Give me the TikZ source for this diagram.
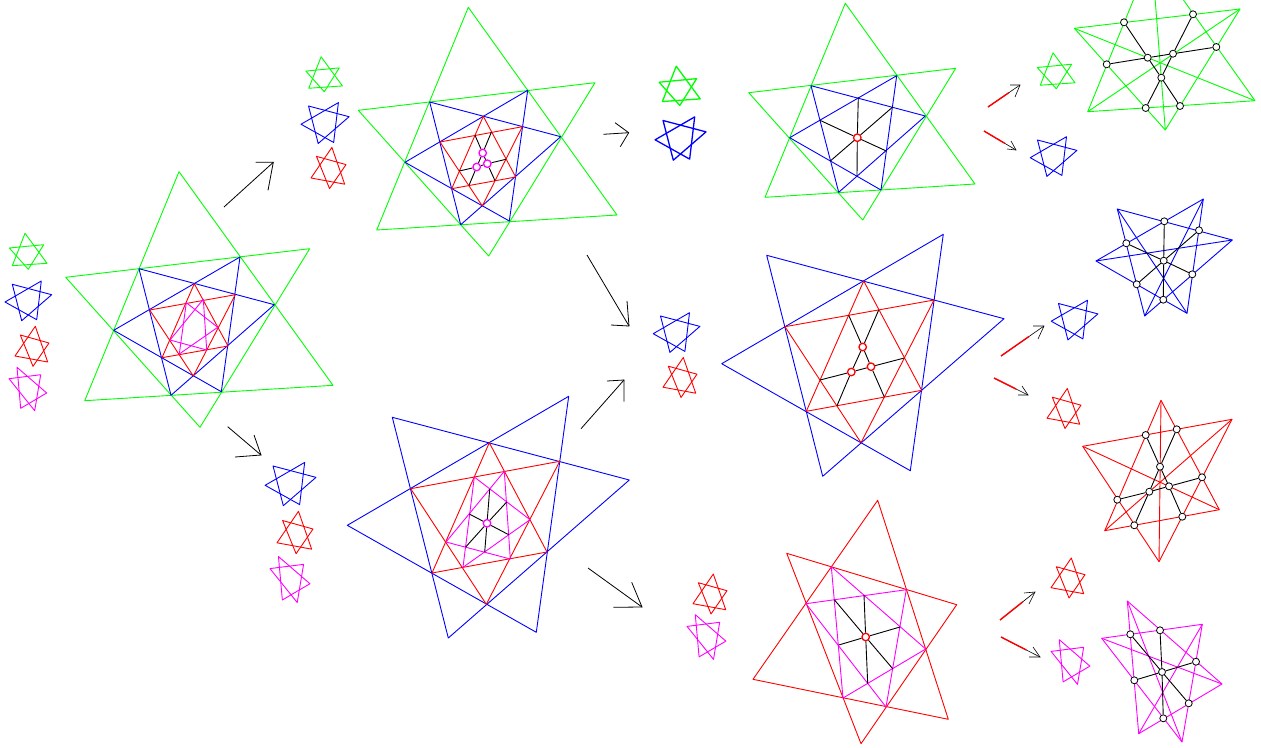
\documentclass[tikz,border=0pt]{standalone}
\usepackage{tikz}
\usetikzlibrary{calc}
\definecolor{pgreen}{RGB}{0,255,0}
\definecolor{pblue}{RGB}{0,0,255}
\definecolor{pred}{RGB}{255,0,0}
\definecolor{pmag}{RGB}{255,0,255}
\tikzset{
  starline/.style={line width=0.9pt,line join=round},
  conn/.style={black,line width=0.9pt},
  hub/.style={circle,draw=#1,fill=white,line width=1.3pt,minimum size=7.5pt,inner sep=0pt},
  vtx/.style={circle,draw=black,fill=white,line width=0.8pt,minimum size=7pt,inner sep=0pt},
  bigarrow/.style={black,line width=0.8pt,line join=miter},
  redshaft/.style={pred,line width=1.4pt},
  thinarrow/.style={black,line width=0.6pt}
}
% triangle: colour, three points
\newcommand{\tri}[4]{\draw[starline,#1] #2 -- #3 -- #4 -- cycle;}
% star of two triangles plus three long diagonals
\newcommand{\hexa}[7]{%
  \draw[starline,#1] #2 -- #4 -- #6 -- cycle;
  \draw[starline,#1] #3 -- #5 -- #7 -- cycle;
  \draw[starline,#1] #2 -- #5;
  \draw[starline,#1] #3 -- #6;
  \draw[starline,#1] #4 -- #7;}
% small stars: cx, cy, scale, optional width
\newcommand{\gstar}[4][0.9pt]{\begin{scope}[shift={(#2,#3)},scale=#4,pgreen,line width=#1,line join=round]
  \draw (-3,-17.7) -- (19,12.3) -- (-15.7,14.7) -- cycle;
  \draw (-18.7,-3) -- (15.7,-6.3) -- (0.3,18.3) -- cycle;\end{scope}}
\newcommand{\bstar}[4][0.9pt]{\begin{scope}[shift={(#2,#3)},scale=#4,pblue,line width=#1,line join=round]
  \draw (-16,-16.5) -- (23.4,-6.1) -- (-6.6,19.9) -- cycle;
  \draw (13,-19.8) -- (8.4,18.9) -- (-23.3,1.2) -- cycle;\end{scope}}
\newcommand{\rstar}[4][0.9pt]{\begin{scope}[shift={(#2,#3)},scale=#4,pred,line width=#1,line join=round]
  \draw (3.3,-20) -- (15.7,15.7) -- (-17,9.7) -- cycle;
  \draw (-11.7,-11.3) -- (17,-3.3) -- (1,20) -- cycle;\end{scope}}
\newcommand{\mstar}[4][0.9pt]{\begin{scope}[shift={(#2,#3)},scale=#4,pmag,line width=#1,line join=round]
  \draw (-10.9,-21.7) -- (18.8,4) -- (-7.2,19.3) -- cycle;
  \draw (-18.9,-10.3) -- (12.8,-14.3) -- (6.8,21.7) -- cycle;\end{scope}}
% arrows: name, start, tip, barb, barb
\newcommand{\bigarr}[5]{%
  \coordinate (#1s) at #2; \coordinate (#1t) at #3; \coordinate (#1a) at #4; \coordinate (#1b) at #5;
  \draw[bigarrow] (#1s) -- (#1t);
  \draw[bigarrow] (#1a) -- (#1t) -- (#1b);}
\newcommand{\redarr}[5]{%
  \coordinate (#1s) at #2; \coordinate (#1t) at #3; \coordinate (#1a) at #4; \coordinate (#1b) at #5;
  \draw[thinarrow] (#1s) -- (#1t);
  \draw[thinarrow] (#1a) -- (#1t) -- (#1b);
  \draw[redshaft] (#1s) -- ($(#1s)!0.65!(#1t)$);}
\begin{document}
\begin{tikzpicture}[x=1pt,y=-1pt]
\clip (0,0) rectangle (1261,747);
\fill[white] (0,0) rectangle (1261,747);

% ---------- small stars
\gstar{28}{251}{1}
\bstar{28.3}{300.8}{1}
\rstar{32}{346.3}{1}
\mstar{27.9}{389}{1}
\gstar{324}{74}{0.97}
\bstar{325}{123}{1.03}
\rstar{328.5}{168}{1.03}
\bstar{290.5}{484}{1.09}
\rstar{295}{532.5}{1.06}
\mstar{290}{579.5}{1.06}
\gstar[1.3pt]{679.5}{85.5}{1.09}
\bstar[1.3pt]{680.5}{138.5}{1.09}
\bstar{676.5}{332.5}{1}
\rstar{680}{377.5}{1}
\rstar{710}{594}{1}
\mstar{706.5}{637}{1.03}
\gstar{1056}{70.5}{1}
\bstar{1053.5}{156.5}{1}
\bstar{1074.5}{320}{1}
\rstar{1064}{408.5}{1}
\rstar{1068}{578}{1}
\mstar{1070.5}{662}{1.03}

% ---------- figure 1
\tri{pgreen}{(179,171.7)}{(333,385.3)}{(84.7,400.7)}
\tri{pgreen}{(65.7,277.3)}{(309.7,248.7)}{(200,427.3)}
\tri{pblue}{(139,268.7)}{(274.3,304.7)}{(171,395.3)}
\tri{pblue}{(240,257)}{(221.3,391.7)}{(113.7,330.3)}
\tri{pred}{(194.3,283.7)}{(228,346)}{(162,357.7)}
\tri{pred}{(235.3,294.7)}{(193.3,376)}{(149.7,310)}
\tri{pmag}{(203.3,299.3)}{(206.7,350)}{(170,340)}
\tri{pmag}{(186.3,302.7)}{(179.3,354)}{(217.7,327.3)}

% ---------- figure 2 (upper middle)
\tri{pgreen}{(468.3,7.3)}{(617,215)}{(376.7,230)}
\tri{pgreen}{(358.3,110.3)}{(595,82.7)}{(488.7,256)}
\tri{pblue}{(429.7,102)}{(560.7,136.7)}{(460.7,224.7)}
\tri{pblue}{(527.7,90.3)}{(509.3,221)}{(405,162.3)}
\tri{pred}{(483.3,116.3)}{(515.7,177)}{(451.7,188.7)}
\tri{pred}{(522.3,126.7)}{(482.3,206)}{(440,142)}
\coordinate (b1) at (475,135.3);
\coordinate (b2) at (491.3,132.3);
\coordinate (b3) at (506,159.3);
\coordinate (b4) at (495,180.7);
\coordinate (b5) at (469,185.3);
\coordinate (b6) at (459.3,171);
\node[hub=pmag] (bA) at (482.7,153) {};
\node[hub=pmag] (bB) at (487.3,163.7) {};
\node[hub=pmag] (bC) at (476.7,167) {};
\draw[conn] (b1) -- (bA) -- (bB) -- (b4);
\draw[conn] (b2) -- (bA) -- (bC) -- (b5);
\draw[conn] (b3) -- (bB) -- (bC) -- (b6);

% ---------- figure 3 (lower middle)
\tri{pblue}{(392.3,417.3)}{(629.3,480)}{(448.3,638)}
\tri{pblue}{(568.7,396.3)}{(536.3,632.3)}{(347.3,525.3)}
\tri{pred}{(489.3,442.7)}{(547,552)}{(432,573)}
\tri{pred}{(559.7,461.3)}{(486.3,604.3)}{(410.7,488.7)}
\tri{pmag}{(474.3,477)}{(530,519.7)}{(463,567.3)}
\tri{pmag}{(504.3,471.3)}{(510.3,559)}{(446,542)}
\coordinate (c1) at (489.7,489);
\coordinate (c2) at (506.7,502);
\coordinate (c3) at (508.7,534.7);
\coordinate (c4) at (484.7,552);
\coordinate (c5) at (465.7,547);
\coordinate (c6) at (469.3,514);
\node[hub=pmag] (cO) at (487,523.3) {};
\foreach \k in {1,...,6} \draw[conn] (cO) -- (c\k);

% ---------- figure 4 (top)
\tri{pgreen}{(845.3,3.3)}{(975,184)}{(765,197.3)}
\tri{pgreen}{(748.7,92.7)}{(955.7,68.3)}{(862.7,220)}
\tri{pblue}{(811,85.7)}{(925.3,116)}{(838.7,192.3)}
\tri{pblue}{(896.7,75.7)}{(881,190)}{(789.7,137.7)}
\coordinate (d1) at (858.3,97.7);
\coordinate (d2) at (892.7,107);
\coordinate (d3) at (886.3,151);
\coordinate (d4) at (857,176);
\coordinate (d5) at (830.3,161);
\coordinate (d6) at (820,120.3);
\node[hub=pred] (dO) at (857.3,137.7) {};
\foreach \k in {1,...,6} \draw[conn] (dO) -- (d\k);

% ---------- figure 5 (centre)
\tri{pblue}{(766.7,255.3)}{(1004,318.7)}{(822.7,476.3)}
\tri{pblue}{(943.3,234.3)}{(910.3,470.7)}{(721.7,363.7)}
\tri{pred}{(863.7,281)}{(921.7,390.3)}{(806.3,411.3)}
\tri{pred}{(934,300)}{(861,442.7)}{(785,326.7)}
\coordinate (e1) at (848.7,315.3);
\coordinate (e2) at (878.7,310);
\coordinate (e3) at (904.3,358);
\coordinate (e4) at (884.3,397);
\coordinate (e5) at (837,405.7);
\coordinate (e6) at (820,380);
\node[hub=pred] (eA) at (862.7,347) {};
\node[hub=pred] (eB) at (871,366.7) {};
\node[hub=pred] (eC) at (851.3,372) {};
\draw[conn] (e1) -- (eA) -- (eB) -- (e4);
\draw[conn] (e2) -- (eA) -- (eC) -- (e5);
\draw[conn] (e3) -- (eB) -- (eC) -- (e6);

% ---------- figure 6 (bottom)
\tri{pred}{(877.7,500.3)}{(948.3,719.3)}{(753,679.3)}
\tri{pred}{(786.7,553.3)}{(956.7,604.7)}{(861,743.7)}
\tri{pmag}{(831.3,566.7)}{(925.7,649)}{(843,698)}
\tri{pmag}{(906.3,589.7)}{(886,707)}{(806,603.7)}
\coordinate (f1) at (864,595);
\coordinate (f2) at (900,627);
\coordinate (f3) at (892.7,668.7);
\coordinate (f4) at (867.7,683.7);
\coordinate (f5) at (838.7,645);
\coordinate (f6) at (834.3,599.7);
\node[hub=pred] (fO) at (865.7,637) {};
\foreach \k in {1,...,6} \draw[conn] (fO) -- (f\k);

% ---------- right column, green
\hexa{pgreen}{(1151.7,-44.7)}{(1240,9)}{(1255,100.7)}{(1165.3,130)}{(1087.7,111.7)}{(1074.3,28.3)}
\node[vtx] (g1) at (1124,22.3) {};
\node[vtx] (g2) at (1193,14.3) {};
\node[vtx] (g3) at (1216.3,47) {};
\node[vtx] (g4) at (1180,106) {};
\node[vtx] (g5) at (1145.7,108) {};
\node[vtx] (g6) at (1106.7,64.3) {};
\node[vtx] (gL) at (1147.7,57.7) {};
\node[vtx] (gR) at (1173,53.7) {};
\node[vtx] (gD) at (1161.3,77.7) {};
\draw[conn] (g1) -- (gL) -- (gD) -- (g4);
\draw[conn] (g2) -- (gR) -- (gD) -- (g5);
\draw[conn] (g6) -- (gL) -- (gR) -- (g3);

% ---------- right column, blue
\hexa{pblue}{(1117.3,209)}{(1203.3,199)}{(1232.3,240)}{(1187,313.3)}{(1144.7,316)}{(1096,261)}
\node[vtx] (h1) at (1164.3,221.3) {};
\node[vtx] (h2) at (1199,230.3) {};
\node[vtx] (h3) at (1192.3,274.3) {};
\node[vtx] (h4) at (1163.3,299.7) {};
\node[vtx] (h5) at (1136.7,284.3) {};
\node[vtx] (h6) at (1126.3,243.3) {};
\node[vtx] (hO) at (1163.7,260.7) {};
\foreach \k in {1,...,6} \draw[conn] (hO) -- (h\k);

% ---------- right column, red
\hexa{pred}{(1161,400.3)}{(1232,419.3)}{(1219.3,509.7)}{(1159,561.7)}{(1104.7,530.7)}{(1082.7,446.3)}
\node[vtx] (i1) at (1145.7,435) {};
\node[vtx] (i2) at (1176.7,429.3) {};
\node[vtx] (i3) at (1202,477.3) {};
\node[vtx] (i4) at (1182.3,516.7) {};
\node[vtx] (i5) at (1134.3,525.3) {};
\node[vtx] (i6) at (1117.3,499.7) {};
\node[vtx] (iA) at (1160,466.7) {};
\node[vtx] (iB) at (1169,486.3) {};
\node[vtx] (iC) at (1149.3,491.7) {};
\draw[conn] (i1) -- (iA) -- (iB) -- (i4);
\draw[conn] (i2) -- (iA) -- (iC) -- (i5);
\draw[conn] (i3) -- (iB) -- (iC) -- (i6);

% ---------- right column, magenta
\hexa{pmag}{(1127.3,601)}{(1202.3,624.3)}{(1222,684)}{(1182,742)}{(1138.7,733.7)}{(1101.7,638.3)}
\node[vtx] (j1) at (1160,630.3) {};
\node[vtx] (j2) at (1196,661.7) {};
\node[vtx] (j3) at (1188.7,703.3) {};
\node[vtx] (j4) at (1163.3,718.3) {};
\node[vtx] (j5) at (1134.3,680.3) {};
\node[vtx] (j6) at (1130.3,634.3) {};
\node[vtx] (jO) at (1162,672) {};
\foreach \k in {1,...,6} \draw[conn] (jO) -- (j\k);

% ---------- arrows
\bigarr{pa}{(224,207)}{(273.3,162.3)}{(255.7,162.3)}{(268,190.3)}
\bigarr{pb}{(227.7,426.7)}{(261,455)}{(235,457)}{(254,435)}
\bigarr{pc}{(603.3,134.3)}{(628.7,132.7)}{(615,122.7)}{(620.3,146.7)}
\bigarr{pd}{(587,255)}{(629,326)}{(611,325)}{(627,301)}
\bigarr{pe}{(581,428.7)}{(624,380)}{(607,381)}{(624,401.7)}
\bigarr{pf}{(588,568)}{(642,607)}{(631.7,582.3)}{(613.3,607.3)}
\redarr{qa}{(988,107)}{(1020,85)}{(1010,85)}{(1015,97)}
\redarr{qb}{(984,131)}{(1016,150)}{(1007,149)}{(1011,141)}
\redarr{qc}{(1001,356)}{(1044,326)}{(1033,326)}{(1038,339)}
\redarr{qd}{(994,378)}{(1028,395)}{(1018,395)}{(1022,386)}
\redarr{qe}{(1000,620)}{(1035,592)}{(1024,593)}{(1029,604)}
\redarr{qf}{(1001,637)}{(1040,657)}{(1029,657)}{(1033,647)}
\end{tikzpicture}
\end{document}
